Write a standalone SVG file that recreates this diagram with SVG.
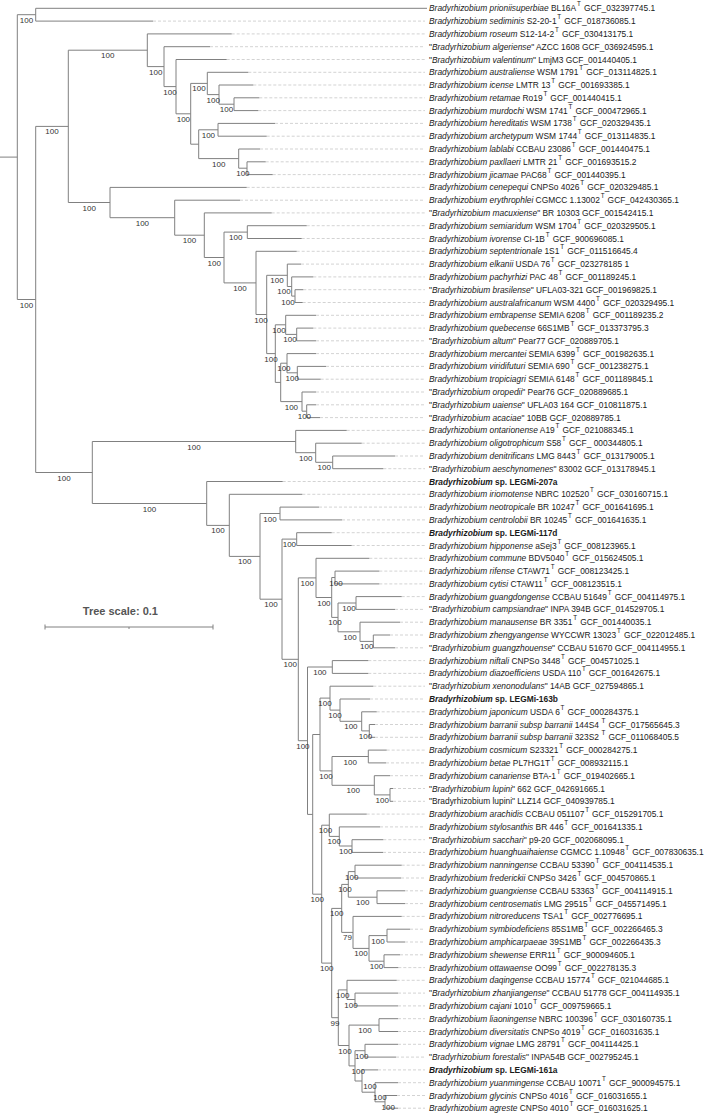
<svg xmlns="http://www.w3.org/2000/svg" width="706" height="1113" viewBox="0 0 706 1113">
<style>
.lf{font-family:"Liberation Sans",Arial,sans-serif;font-size:8.4px;fill:#1a1a1a}
.i{font-style:italic}
.b{font-weight:bold}
.t{font-size:6.3px}
.bs{font-family:"Liberation Sans",Arial,sans-serif;font-size:8px;fill:#333;text-anchor:middle}
.br{stroke:#808080;stroke-width:1;fill:none}
.dl{stroke:#c8c8c8;stroke-width:0.8;stroke-dasharray:3 2;fill:none}
.sc{font-family:"Liberation Sans",Arial,sans-serif;font-size:11px;font-weight:bold;fill:#555;text-anchor:end}
</style>
<rect width="706" height="1113" fill="#fff"/>
<g id="connectors">
<path class="dl" d="M153,21.1H425M231.7,33.9H425M210,46.7H425M226.7,59.5H425M248.3,72.3H425M253.3,85H425M259.3,97.8H425M258.3,110.6H425M275,123.4H425M266.7,136.2H425M260,149H425M265.7,161.8H425M272.7,174.6H425M246.7,187.4H425M240,200.2H425M271.7,212.9H425M306.7,225.7H425M301.7,238.5H425M296.7,251.3H425M301,264.1H425M313.3,276.9H425M303.3,289.7H425M302.7,302.5H425M316,315.3H425M313.3,328.1H425M316,340.8H425M316,353.6H425M326,366.4H425M320.7,379.2H425M316,392H425M316,404.8H425M320,417.6H425M346.7,430.4H425M361.7,443.2H425M395,456H425M383.3,468.7H425M282.7,481.5H425M302.3,494.3H425M319,507.1H425M342,519.9H425M331.7,532.7H425M351.7,545.5H425M369.3,558.3H425M379.3,571.1H425M379.3,583.9H425M401.7,596.6H425M395,609.4H425M400,622.2H425M390,635H425M395,647.8H425M368.3,660.6H425M368.3,673.4H425M373.3,686.2H425M370,699H425M376.7,711.8H425M375,724.5H425M375,737.3H425M386.7,750.1H425M386,762.9H425M390,775.7H425M393,788.5H425M393,801.3H425M366.7,814.1H425M380,826.9H425M383.3,839.7H425M383,852.4H425M401.7,865.2H425M401,878H425M405,890.8H425M405,903.6H425M401.7,916.4H425M410,929.2H425M405,942H425M400,954.8H425M398.3,967.6H425M396.7,980.3H425M398,993.1H425M398,1005.9H425M398,1018.7H425M398,1031.5H425M398,1044.3H425M396,1057.1H425M378,1069.9H425M398,1082.7H425M397,1095.5H425M398,1108.2H425"/>
<path class="br" d="M0,157.1H17.3M35.7,14.7H17.3V299.5H35.7
M427,8.3H35.7V21.1H153
M68.3,126.4H35.7V472.5H92.3
M147.3,50.2H68.3V202.5H110
M231.7,33.9H147.3V66.6H164
M210,46.7H164V86.6H176
M226.7,59.5H176V113.8H190.7
M207.3,83.4H190.7V144.2H198.7
M248.3,72.3H207.3V94.6H219
M253.3,85H219V104.2H234
M259.3,97.8H234V110.6H258.3
M218,129.8H198.7V158.6H238.7
M275,123.4H218V136.2H266.7
M260,149H238.7V168.2H247
M265.7,161.8H247V174.6H272.7
M246.7,187.4H110V217.7H174.7
M240,200.2H174.7V235.2H204.3
M271.7,212.9H204.3V257.5H224
M247.3,232.1H224V282.9H256
M306.7,225.7H247.3V238.5H301.7
M296.7,251.3H256V314.5H266.7
M287.3,275.3H266.7V353.6H275.3
M301,264.1H287.3V286.5H291.7
M313.3,276.9H291.7V296.1H295
M303.3,289.7H295V302.5H302.7
M285.7,324.8H275.3V382.4H280.7
M316,315.3H285.7V334.4H296.7
M313.3,328.1H296.7V340.8H316
M287,363.2H280.7V401.6H302
M316,353.6H287V372.8H297.3
M326,366.4H297.3V379.2H320.7
M316,392H302V411.2H306.7
M316,404.8H306.7V417.6H320
M295.7,441.5H92.3V503.5H206.7
M346.7,430.4H295.7V452.7H315.7
M361.7,443.2H315.7V462.3H332.7
M395,456H332.7V468.7H383.3
M282.7,481.5H206.7V525.4H229.3
M302.3,494.3H229.3V556.4H260
M280,513.5H260V599.2H282
M319,507.1H280V519.9H342
M296.7,539.1H282V659.3H298.3
M331.7,532.7H296.7V545.5H351.7
M316,577.9H298.3V740.7H307.5
M369.3,558.3H316V597.5H331.7
M335,577.5H331.7V617.4H338
M379.3,571.1H335V583.9H379.3
M356,603H338V631.8H360
M401.7,596.6H356V609.4H395
M400,622.2H360V641.4H373.3
M390,635H373.3V647.8H395
M332.3,667H307.5V814.4H312.7
M368.3,660.6H332.3V673.4H368.3
M320,734.5H312.7V894.2H321.7
M330,698.1H320V770.9H332
M373.3,686.2H330V710.1H340
M370,699H340V721.3H361.7
M376.7,711.8H361.7V730.9H369.3
M375,724.5H369.3V737.3H375
M368.3,756.5H332V785.3H374.3
M386.7,750.1H368.3V762.9H386
M390,775.7H374.3V794.9H390
M393,788.5H390V801.3H393
M329.3,825.2H321.7V963.1H331.7
M366.7,814.1H329.3V836.4H339.3
M380,826.9H339.3V846H352
M383.3,839.7H352V852.4H383
M341.7,908.4H331.7V1017.7H338.3
M348.3,884.4H341.7V932.4H353
M355,871.6H348.3V897.2H377
M401.7,865.2H355V878H401
M405,890.8H377V903.6H405
M401.7,916.4H353V948.4H369
M387,935.6H369V961.2H384
M410,929.2H387V942H405
M400,954.8H384V967.6H398.3
M347,989.9H338.3V1045.5H349
M396.7,980.3H347V999.5H355
M398,993.1H355V1005.9H398
M379,1025.1H349V1065.9H355
M398,1018.7H379V1031.5H398
M365,1050.7H355V1081H362
M398,1044.3H365V1057.1H396
M378,1069.9H362V1092.2H375
M398,1082.7H375V1101.8H385
M397,1095.5H385V1108.2H398"/>
</g>
<g id="bootstrap">
<g id="n-N1"><text class="bs" x="26.5" y="22.7">100</text></g>
<g id="n-A"><text class="bs" x="26.5" y="307.5">100</text></g>
<g id="n-B"><text class="bs" x="52" y="134.4">100</text></g>
<g id="n-C"><text class="bs" x="107.8" y="58.2">100</text></g>
<g id="n-D"><text class="bs" x="155.7" y="74.6">100</text></g>
<g id="n-E"><text class="bs" x="170" y="94.6">100</text></g>
<g id="n-F"><text class="bs" x="183.4" y="121.8">100</text></g>
<g id="n-G"><text class="bs" x="199" y="91.4">100</text></g>
<g id="n-G2"><text class="bs" x="213.2" y="102.6">100</text></g>
<g id="n-G3"><text class="bs" x="226.5" y="112.2">100</text></g>
<g id="n-H1"><text class="bs" x="208.4" y="137.8">100</text></g>
<g id="n-H2"><text class="bs" x="218.7" y="166.6">100</text></g>
<g id="n-H3"><text class="bs" x="242.9" y="176.2">100</text></g>
<g id="n-I"><text class="bs" x="89.2" y="210.5">100</text></g>
<g id="n-J"><text class="bs" x="142.4" y="225.7">100</text></g>
<g id="n-K"><text class="bs" x="189.5" y="243.2">100</text></g>
<g id="n-L"><text class="bs" x="214.2" y="265.5">100</text></g>
<g id="n-M"><text class="bs" x="235.7" y="240.1">100</text></g>
<g id="n-N"><text class="bs" x="240" y="290.9">100</text></g>
<g id="n-O"><text class="bs" x="261" y="322.5">100</text></g>
<g id="n-P"><text class="bs" x="277" y="283.3">100</text></g>
<g id="n-P2"><text class="bs" x="284" y="294">100</text></g>
<g id="n-P3"><text class="bs" x="288" y="304.5">100</text></g>
<g id="n-Q"><text class="bs" x="271" y="361.6">100</text></g>
<g id="n-R"><text class="bs" x="279" y="332.8">100</text></g>
<g id="n-R2"><text class="bs" x="290" y="342.4">100</text></g>
<g id="n-T"><text class="bs" x="283.9" y="371.2">100</text></g>
<g id="n-T2"><text class="bs" x="292.2" y="380.8">100</text></g>
<g id="n-U"><text class="bs" x="291.4" y="409.6">100</text></g>
<g id="n-U2"><text class="bs" x="304.4" y="419.2">100</text></g>
<g id="n-W"><text class="bs" x="64" y="480.5">100</text></g>
<g id="n-V1"><text class="bs" x="194" y="449.5">100</text></g>
<g id="n-V2"><text class="bs" x="305.7" y="460.7">100</text></g>
<g id="n-V3"><text class="bs" x="324.2" y="470.3">100</text></g>
<g id="n-X"><text class="bs" x="149.5" y="511.5">100</text></g>
<g id="n-Y"><text class="bs" x="218" y="533.4">100</text></g>
<g id="n-Z"><text class="bs" x="244.7" y="564.4">100</text></g>
<g id="n-Z1"><text class="bs" x="270" y="521.5">100</text></g>
<g id="n-Z2"><text class="bs" x="271" y="607.2">100</text></g>
<g id="n-Z3"><text class="bs" x="289.4" y="547.1">100</text></g>
<g id="n-Z4"><text class="bs" x="290.2" y="667.3">100</text></g>
<g id="n-AA"><text class="bs" x="307.2" y="585.9">100</text></g>
<g id="n-AC"><text class="bs" x="323.9" y="605.5">100</text></g>
<g id="n-AD"><text class="bs" x="336" y="585.5">100</text></g>
<g id="n-AI"><text class="bs" x="335" y="625.4">100</text></g>
<g id="n-AF"><text class="bs" x="349" y="611">100</text></g>
<g id="n-AH"><text class="bs" x="350" y="639.8">100</text></g>
<g id="n-AG"><text class="bs" x="366.7" y="649.4">100</text></g>
<g id="n-AB"><text class="bs" x="302.9" y="748.7">100</text></g>
<g id="n-AJ"><text class="bs" x="319.9" y="675">100</text></g>
<g id="n-AO"><text class="bs" x="325" y="706.1">100</text></g>
<g id="n-AN"><text class="bs" x="335" y="718.1">100</text></g>
<g id="n-AM"><text class="bs" x="350.9" y="729.3">100</text></g>
<g id="n-AL"><text class="bs" x="365.5" y="738.9">100</text></g>
<g id="n-AQ"><text class="bs" x="326" y="778.9">100</text></g>
<g id="n-AP"><text class="bs" x="350.2" y="764.5">100</text></g>
<g id="n-AR"><text class="bs" x="353.2" y="793.3">100</text></g>
<g id="n-AR1"><text class="bs" x="382.2" y="802.9">100</text></g>
<g id="n-Nw"><text class="bs" x="317.2" y="902.2">100</text></g>
<g id="n-Nc"><text class="bs" x="325.5" y="833.2">100</text></g>
<g id="n-Nb"><text class="bs" x="334.3" y="844.4">100</text></g>
<g id="n-Na"><text class="bs" x="345.7" y="854">100</text></g>
<g id="n-Nv"><text class="bs" x="326.7" y="971.1">100</text></g>
<g id="n-Nk"><text class="bs" x="336.7" y="916.4">100</text></g>
<g id="n-Nf"><text class="bs" x="345" y="892.4">100</text></g>
<g id="n-Nd"><text class="bs" x="351.7" y="879.6">100</text></g>
<g id="n-Ne"><text class="bs" x="362.7" y="905.2">100</text></g>
<g id="n-Nj"><text class="bs" x="347.4" y="940.4">79</text></g>
<g id="n-Ni"><text class="bs" x="361" y="956.4">100</text></g>
<g id="n-Ng"><text class="bs" x="378" y="943.6">100</text></g>
<g id="n-Nh"><text class="bs" x="376.5" y="969.2">100</text></g>
<g id="n-Nu"><text class="bs" x="335" y="1025.7">99</text></g>
<g id="n-Nm"><text class="bs" x="342.7" y="997.9">100</text></g>
<g id="n-Nl"><text class="bs" x="351" y="1007.5">100</text></g>
<g id="n-Nt"><text class="bs" x="345" y="1053.5">100</text></g>
<g id="n-Nn"><text class="bs" x="365" y="1033.1">100</text></g>
<g id="n-Ns"><text class="bs" x="358.3" y="1073.9">100</text></g>
<g id="n-No"><text class="bs" x="361.7" y="1058.7">100</text></g>
<g id="n-Nr"><text class="bs" x="370" y="1089">100</text></g>
<g id="n-Nq"><text class="bs" x="380" y="1100.2">100</text></g>
<g id="n-Np"><text class="bs" x="388.3" y="1109.8">100</text></g>
</g>
<g id="scale">
<text class="sc" x="158" y="615">Tree scale: 0.1</text>
<path class="br" d="M45,627H213M45,624.5V629.5M213,624.5V629.5M129,627V629"/>
</g>
<g id="leaves" class="lf">
<g id="leaf0"><text x="429" y="11.3"><tspan class="i">Bradyrhizobium prioniisuperbiae</tspan> BL16A<tspan class="t" dx="0.8" dy="-5">T</tspan><tspan dx="0.8" dy="5"> GCF_032397745.1</tspan></text></g>
<g id="leaf1"><text x="429" y="24.1"><tspan class="i">Bradyrhizobium sediminis</tspan> S2-20-1<tspan class="t" dx="0.8" dy="-5">T</tspan><tspan dx="0.8" dy="5"> GCF_018736085.1</tspan></text></g>
<g id="leaf2"><text x="429" y="36.9"><tspan class="i">Bradyrhizobium roseum</tspan> S12-14-2<tspan class="t" dx="0.8" dy="-5">T</tspan><tspan dx="0.8" dy="5"> GCF_030413175.1</tspan></text></g>
<g id="leaf3"><text x="429" y="49.7">"<tspan class="i">Bradyrhizobium algeriense</tspan>" AZCC 1608 GCF_036924595.1</text></g>
<g id="leaf4"><text x="429" y="62.5">"<tspan class="i">Bradyrhizobium valentinum</tspan>" LmjM3 GCF_001440405.1</text></g>
<g id="leaf5"><text x="429" y="75.3"><tspan class="i">Bradyrhizobium australiense</tspan> WSM 1791<tspan class="t" dx="0.8" dy="-5">T</tspan><tspan dx="0.8" dy="5"> GCF_013114825.1</tspan></text></g>
<g id="leaf6"><text x="429" y="88"><tspan class="i">Bradyrhizobium icense</tspan> LMTR 13<tspan class="t" dx="0.8" dy="-5">T</tspan><tspan dx="0.8" dy="5"> GCF_001693385.1</tspan></text></g>
<g id="leaf7"><text x="429" y="100.8"><tspan class="i">Bradyrhizobium retamae</tspan> Ro19<tspan class="t" dx="0.8" dy="-5">T</tspan><tspan dx="0.8" dy="5"> GCF_001440415.1</tspan></text></g>
<g id="leaf8"><text x="429" y="113.6"><tspan class="i">Bradyrhizobium murdochi</tspan> WSM 1741<tspan class="t" dx="0.8" dy="-5">T</tspan><tspan dx="0.8" dy="5"> GCF_000472965.1</tspan></text></g>
<g id="leaf9"><text x="429" y="126.4"><tspan class="i">Bradyrhizobium hereditatis</tspan> WSM 1738<tspan class="t" dx="0.8" dy="-5">T</tspan><tspan dx="0.8" dy="5"> GCF_020329435.1</tspan></text></g>
<g id="leaf10"><text x="429" y="139.2"><tspan class="i">Bradyrhizobium archetypum</tspan> WSM 1744<tspan class="t" dx="0.8" dy="-5">T</tspan><tspan dx="0.8" dy="5"> GCF_013114835.1</tspan></text></g>
<g id="leaf11"><text x="429" y="152"><tspan class="i">Bradyrhizobium lablabi</tspan> CCBAU 23086<tspan class="t" dx="0.8" dy="-5">T</tspan><tspan dx="0.8" dy="5"> GCF_001440475.1</tspan></text></g>
<g id="leaf12"><text x="429" y="164.8"><tspan class="i">Bradyrhizobium paxllaeri</tspan> LMTR 21<tspan class="t" dx="0.8" dy="-5">T</tspan><tspan dx="0.8" dy="5"> GCF_001693515.2</tspan></text></g>
<g id="leaf13"><text x="429" y="177.6"><tspan class="i">Bradyrhizobium jicamae</tspan> PAC68<tspan class="t" dx="0.8" dy="-5">T</tspan><tspan dx="0.8" dy="5"> GCF_001440395.1</tspan></text></g>
<g id="leaf14"><text x="429" y="190.4"><tspan class="i">Bradyrhizobium cenepequi</tspan> CNPSo 4026<tspan class="t" dx="0.8" dy="-5">T</tspan><tspan dx="0.8" dy="5"> GCF_020329485.1</tspan></text></g>
<g id="leaf15"><text x="429" y="203.2"><tspan class="i">Bradyrhizobium erythrophlei</tspan> CGMCC 1.13002<tspan class="t" dx="0.8" dy="-5">T</tspan><tspan dx="0.8" dy="5"> GCF_042430365.1</tspan></text></g>
<g id="leaf16"><text x="429" y="215.9">"<tspan class="i">Bradyrhizobium macuxiense</tspan>" BR 10303 GCF_001542415.1</text></g>
<g id="leaf17"><text x="429" y="228.7"><tspan class="i">Bradyrhizobium semiaridum</tspan> WSM 1704<tspan class="t" dx="0.8" dy="-5">T</tspan><tspan dx="0.8" dy="5"> GCF_020329505.1</tspan></text></g>
<g id="leaf18"><text x="429" y="241.5"><tspan class="i">Bradyrhizobium ivorense</tspan> CI-1B<tspan class="t" dx="0.8" dy="-5">T</tspan><tspan dx="0.8" dy="5"> GCF_900696085.1</tspan></text></g>
<g id="leaf19"><text x="429" y="254.3"><tspan class="i">Bradyrhizobium septentrionale</tspan> 1S1<tspan class="t" dx="0.8" dy="-5">T</tspan><tspan dx="0.8" dy="5"> GCF_011516645.4</tspan></text></g>
<g id="leaf20"><text x="429" y="267.1"><tspan class="i">Bradyrhizobium elkanii</tspan> USDA 76<tspan class="t" dx="0.8" dy="-5">T</tspan><tspan dx="0.8" dy="5"> GCF_023278185 1</tspan></text></g>
<g id="leaf21"><text x="429" y="279.9"><tspan class="i">Bradyrhizobium pachyrhizi</tspan> PAC 48<tspan class="t" dx="0.8" dy="-5">T</tspan><tspan dx="0.8" dy="5"> GCF_001189245.1</tspan></text></g>
<g id="leaf22"><text x="429" y="292.7">"<tspan class="i">Bradyrhizobium brasilense</tspan>" UFLA03-321 GCF_001969825.1</text></g>
<g id="leaf23"><text x="429" y="305.5"><tspan class="i">Bradyrhizobium australafricanum</tspan> WSM 4400<tspan class="t" dx="0.8" dy="-5">T</tspan><tspan dx="0.8" dy="5"> GCF_020329495.1</tspan></text></g>
<g id="leaf24"><text x="429" y="318.3"><tspan class="i">Bradyrhizobium embrapense</tspan> SEMIA 6208<tspan class="t" dx="0.8" dy="-5">T</tspan><tspan dx="0.8" dy="5"> GCF_001189235.2</tspan></text></g>
<g id="leaf25"><text x="429" y="331.1"><tspan class="i">Bradyrhizobium quebecense</tspan> 66S1MB<tspan class="t" dx="0.8" dy="-5">T</tspan><tspan dx="0.8" dy="5"> GCF_013373795.3</tspan></text></g>
<g id="leaf26"><text x="429" y="343.8">"<tspan class="i">Bradyrhizobium altum</tspan>" Pear77 GCF_020889705.1</text></g>
<g id="leaf27"><text x="429" y="356.6"><tspan class="i">Bradyrhizobium mercantei</tspan> SEMIA 6399<tspan class="t" dx="0.8" dy="-5">T</tspan><tspan dx="0.8" dy="5"> GCF_001982635.1</tspan></text></g>
<g id="leaf28"><text x="429" y="369.4"><tspan class="i">Bradyrhizobium viridifuturi</tspan> SEMIA 690<tspan class="t" dx="0.8" dy="-5">T</tspan><tspan dx="0.8" dy="5"> GCF_001238275.1</tspan></text></g>
<g id="leaf29"><text x="429" y="382.2"><tspan class="i">Bradyrhizobium tropiciagri</tspan> SEMIA 6148<tspan class="t" dx="0.8" dy="-5">T</tspan><tspan dx="0.8" dy="5"> GCF_001189845.1</tspan></text></g>
<g id="leaf30"><text x="429" y="395">"<tspan class="i">Bradyrhizobium oropedii</tspan>" Pear76 GCF_020889685.1</text></g>
<g id="leaf31"><text x="429" y="407.8">"<tspan class="i">Bradyrhizobium uaiense</tspan>" UFLA03 164 GCF_010811875.1</text></g>
<g id="leaf32"><text x="429" y="420.6">"<tspan class="i">Bradyrhizobium acaciae</tspan>" 10BB GCF_020889785.1</text></g>
<g id="leaf33"><text x="429" y="433.4"><tspan class="i">Bradyrhizobium ontarionense</tspan> A19<tspan class="t" dx="0.8" dy="-5">T</tspan><tspan dx="0.8" dy="5"> GCF_021088345.1</tspan></text></g>
<g id="leaf34"><text x="429" y="446.2"><tspan class="i">Bradyrhizobium oligotrophicum</tspan> S58<tspan class="t" dx="0.8" dy="-5">T</tspan><tspan dx="0.8" dy="5"> GCF_ 000344805.1</tspan></text></g>
<g id="leaf35"><text x="429" y="459"><tspan class="i">Bradyrhizobium denitrificans</tspan> LMG 8443<tspan class="t" dx="0.8" dy="-5">T</tspan><tspan dx="0.8" dy="5"> GCF_013179005.1</tspan></text></g>
<g id="leaf36"><text x="429" y="471.7">"<tspan class="i">Bradyrhizobium aeschynomenes</tspan>" 83002 GCF_013178945.1</text></g>
<g id="leaf37"><text x="429" y="484.5" class="b"><tspan class="i">Bradyrhizobium</tspan> sp. LEGMi-207a</text></g>
<g id="leaf38"><text x="429" y="497.3"><tspan class="i">Bradyrhizobium iriomotense</tspan> NBRC 102520<tspan class="t" dx="0.8" dy="-5">T</tspan><tspan dx="0.8" dy="5"> GCF_030160715.1</tspan></text></g>
<g id="leaf39"><text x="429" y="510.1"><tspan class="i">Bradyrhizobium neotropicale</tspan> BR 10247<tspan class="t" dx="0.8" dy="-5">T</tspan><tspan dx="0.8" dy="5"> GCF_001641695.1</tspan></text></g>
<g id="leaf40"><text x="429" y="522.9"><tspan class="i">Bradyrhizobium centrolobii</tspan> BR 10245<tspan class="t" dx="0.8" dy="-5">T</tspan><tspan dx="0.8" dy="5"> GCF_001641635.1</tspan></text></g>
<g id="leaf41"><text x="429" y="535.7" class="b"><tspan class="i">Bradyrhizobium</tspan> sp. LEGMi-117d</text></g>
<g id="leaf42"><text x="429" y="548.5"><tspan class="i">Bradyrhizobium hipponense</tspan> aSej3<tspan class="t" dx="0.8" dy="-5">T</tspan><tspan dx="0.8" dy="5"> GCF_008123965.1</tspan></text></g>
<g id="leaf43"><text x="429" y="561.3"><tspan class="i">Bradyrhizobium commune</tspan> BDV5040<tspan class="t" dx="0.8" dy="-5">T</tspan><tspan dx="0.8" dy="5"> GCF_015624505.1</tspan></text></g>
<g id="leaf44"><text x="429" y="574.1"><tspan class="i">Bradyrhizobium rifense</tspan> CTAW71<tspan class="t" dx="0.8" dy="-5">T</tspan><tspan dx="0.8" dy="5"> GCF_008123425.1</tspan></text></g>
<g id="leaf45"><text x="429" y="586.9"><tspan class="i">Bradyrhizobium cytisi</tspan> CTAW11<tspan class="t" dx="0.8" dy="-5">T</tspan><tspan dx="0.8" dy="5"> GCF_008123515.1</tspan></text></g>
<g id="leaf46"><text x="429" y="599.6"><tspan class="i">Bradyrhizobium guangdongense</tspan> CCBAU 51649<tspan class="t" dx="0.8" dy="-5">T</tspan><tspan dx="0.8" dy="5"> GCF_004114975.1</tspan></text></g>
<g id="leaf47"><text x="429" y="612.4">"<tspan class="i">Bradyrhizobium campsiandrae</tspan>" INPA 394B GCF_014529705.1</text></g>
<g id="leaf48"><text x="429" y="625.2"><tspan class="i">Bradyrhizobium manausense</tspan> BR 3351<tspan class="t" dx="0.8" dy="-5">T</tspan><tspan dx="0.8" dy="5"> GCF_001440035.1</tspan></text></g>
<g id="leaf49"><text x="429" y="638"><tspan class="i">Bradyrhizobium zhengyangense</tspan> WYCCWR 13023<tspan class="t" dx="0.8" dy="-5">T</tspan><tspan dx="0.8" dy="5"> GCF_022012485.1</tspan></text></g>
<g id="leaf50"><text x="429" y="650.8">"<tspan class="i">Bradyrhizobium guangzhouense</tspan>" CCBAU 51670 GCF_004114955.1</text></g>
<g id="leaf51"><text x="429" y="663.6"><tspan class="i">Bradyrhizobium niftali</tspan> CNPSo 3448<tspan class="t" dx="0.8" dy="-5">T</tspan><tspan dx="0.8" dy="5"> GCF_004571025.1</tspan></text></g>
<g id="leaf52"><text x="429" y="676.4"><tspan class="i">Bradyrhizobium diazoefficiens</tspan> USDA 110<tspan class="t" dx="0.8" dy="-5">T</tspan><tspan dx="0.8" dy="5"> GCF_001642675.1</tspan></text></g>
<g id="leaf53"><text x="429" y="689.2">"<tspan class="i">Bradyrhizobium xenonodulans</tspan>" 14AB GCF_027594865.1</text></g>
<g id="leaf54"><text x="429" y="702" class="b"><tspan class="i">Bradyrhizobium</tspan> sp. LEGMi-163b</text></g>
<g id="leaf55"><text x="429" y="714.8"><tspan class="i">Bradyrhizobium japonicum</tspan> USDA 6<tspan class="t" dx="0.8" dy="-5">T</tspan><tspan dx="0.8" dy="5"> GCF_000284375.1</tspan></text></g>
<g id="leaf56"><text x="429" y="727.5"><tspan class="i">Bradyrhizobium barranii subsp barranii</tspan> 144S4<tspan class="t" dx="2.5" dy="-5">T</tspan><tspan dx="0.8" dy="5"> GCF_017565645.3</tspan></text></g>
<g id="leaf57"><text x="429" y="740.3"><tspan class="i">Bradyrhizobium barranii subsp barranii</tspan> 323S2<tspan class="t" dx="2.5" dy="-5">T</tspan><tspan dx="0.8" dy="5"> GCF_011068405.5</tspan></text></g>
<g id="leaf58"><text x="429" y="753.1"><tspan class="i">Bradyrhizobium cosmicum</tspan> S23321<tspan class="t" dx="0.8" dy="-5">T</tspan><tspan dx="0.8" dy="5"> GCF_000284275.1</tspan></text></g>
<g id="leaf59"><text x="429" y="765.9"><tspan class="i">Bradyrhizobium betae</tspan> PL7HG1T<tspan class="t" dx="0.8" dy="-5">T</tspan><tspan dx="0.8" dy="5"> GCF_008932115.1</tspan></text></g>
<g id="leaf60"><text x="429" y="778.7"><tspan class="i">Bradyrhizobium canariense</tspan> BTA-1<tspan class="t" dx="0.8" dy="-5">T</tspan><tspan dx="0.8" dy="5"> GCF_019402665.1</tspan></text></g>
<g id="leaf61"><text x="429" y="791.5">"<tspan class="i">Bradyrhizobium lupini</tspan>" 662 GCF_042691665.1</text></g>
<g id="leaf62"><text x="429" y="804.3">"Bradyrhizobium lupini" LLZ14 GCF_040939785.1</text></g>
<g id="leaf63"><text x="429" y="817.1"><tspan class="i">Bradyrhizobium arachidis</tspan> CCBAU 051107<tspan class="t" dx="0.8" dy="-5">T</tspan><tspan dx="0.8" dy="5"> GCF_015291705.1</tspan></text></g>
<g id="leaf64"><text x="429" y="829.9"><tspan class="i">Bradyrhizobium stylosanthis</tspan> BR 446<tspan class="t" dx="0.8" dy="-5">T</tspan><tspan dx="0.8" dy="5"> GCF_001641335.1</tspan></text></g>
<g id="leaf65"><text x="429" y="842.7">"<tspan class="i">Bradyrhizobium sacchari</tspan>" p9-20 GCF_002068095.1</text></g>
<g id="leaf66"><text x="429" y="855.4"><tspan class="i">Bradyrhizobium huanghuaihaiense</tspan> CGMCC 1.10948<tspan class="t" dx="0.8" dy="-5">T</tspan><tspan dx="0.8" dy="5"> GCF_007830635.1</tspan></text></g>
<g id="leaf67"><text x="429" y="868.2"><tspan class="i">Bradyrhizobium nanningense</tspan> CCBAU 53390<tspan class="t" dx="0.8" dy="-5">T</tspan><tspan dx="0.8" dy="5"> GCF_004114535.1</tspan></text></g>
<g id="leaf68"><text x="429" y="881"><tspan class="i">Bradyrhizobium frederickii</tspan> CNPSo 3426<tspan class="t" dx="0.8" dy="-5">T</tspan><tspan dx="0.8" dy="5"> GCF_004570865.1</tspan></text></g>
<g id="leaf69"><text x="429" y="893.8"><tspan class="i">Bradyrhizobium guangxiense</tspan> CCBAU 53363<tspan class="t" dx="0.8" dy="-5">T</tspan><tspan dx="0.8" dy="5"> GCF_004114915.1</tspan></text></g>
<g id="leaf70"><text x="429" y="906.6"><tspan class="i">Bradyrhizobium centrosematis</tspan> LMG 29515<tspan class="t" dx="0.8" dy="-5">T</tspan><tspan dx="0.8" dy="5"> GCF_045571495.1</tspan></text></g>
<g id="leaf71"><text x="429" y="919.4"><tspan class="i">Bradyrhizobium nitroreducens</tspan> TSA1<tspan class="t" dx="0.8" dy="-5">T</tspan><tspan dx="0.8" dy="5"> GCF_002776695.1</tspan></text></g>
<g id="leaf72"><text x="429" y="932.2"><tspan class="i">Bradyrhizobium symbiodeficiens</tspan> 85S1MB<tspan class="t" dx="0.8" dy="-5">T</tspan><tspan dx="0.8" dy="5"> GCF_002266465.3</tspan></text></g>
<g id="leaf73"><text x="429" y="945"><tspan class="i">Bradyrhizobium amphicarpaeae</tspan> 39S1MB<tspan class="t" dx="0.8" dy="-5">T</tspan><tspan dx="0.8" dy="5"> GCF_002266435.3</tspan></text></g>
<g id="leaf74"><text x="429" y="957.8"><tspan class="i">Bradyrhizobium shewense</tspan> ERR11<tspan class="t" dx="0.8" dy="-5">T</tspan><tspan dx="0.8" dy="5"> GCF_900094605.1</tspan></text></g>
<g id="leaf75"><text x="429" y="970.6"><tspan class="i">Bradyrhizobium ottawaense</tspan> OO99<tspan class="t" dx="0.8" dy="-5">T</tspan><tspan dx="0.8" dy="5"> GCF_002278135.3</tspan></text></g>
<g id="leaf76"><text x="429" y="983.3"><tspan class="i">Bradyrhizobium daqingense</tspan> CCBAU 15774<tspan class="t" dx="0.8" dy="-5">T</tspan><tspan dx="0.8" dy="5"> GCF_021044685.1</tspan></text></g>
<g id="leaf77"><text x="429" y="996.1">"<tspan class="i">Bradyrhizobium zhanjiangense</tspan>" CCBAU 51778 GCF_004114935.1</text></g>
<g id="leaf78"><text x="429" y="1008.9"><tspan class="i">Bradyrhizobium cajani</tspan> 1010<tspan class="t" dx="0.8" dy="-5">T</tspan><tspan dx="0.8" dy="5"> GCF_009759665.1</tspan></text></g>
<g id="leaf79"><text x="429" y="1021.7"><tspan class="i">Bradyrhizobium liaoningense</tspan> NBRC 100396<tspan class="t" dx="0.8" dy="-5">T</tspan><tspan dx="0.8" dy="5"> GCF_030160735.1</tspan></text></g>
<g id="leaf80"><text x="429" y="1034.5"><tspan class="i">Bradyrhizobium diversitatis</tspan> CNPSo 4019<tspan class="t" dx="0.8" dy="-5">T</tspan><tspan dx="0.8" dy="5"> GCF_016031635.1</tspan></text></g>
<g id="leaf81"><text x="429" y="1047.3"><tspan class="i">Bradyrhizobium vignae</tspan> LMG 28791<tspan class="t" dx="0.8" dy="-5">T</tspan><tspan dx="0.8" dy="5"> GCF_004114425.1</tspan></text></g>
<g id="leaf82"><text x="429" y="1060.1">"<tspan class="i">Bradyrhizobium forestalis</tspan>" INPA54B GCF_002795245.1</text></g>
<g id="leaf83"><text x="429" y="1072.9" class="b"><tspan class="i">Bradyrhizobium</tspan> sp. LEGMi-161a</text></g>
<g id="leaf84"><text x="429" y="1085.7"><tspan class="i">Bradyrhizobium yuanmingense</tspan> CCBAU 10071<tspan class="t" dx="0.8" dy="-5">T</tspan><tspan dx="0.8" dy="5"> GCF_900094575.1</tspan></text></g>
<g id="leaf85"><text x="429" y="1098.5"><tspan class="i">Bradyrhizobium glycinis</tspan> CNPSo 4016<tspan class="t" dx="0.8" dy="-5">T</tspan><tspan dx="0.8" dy="5"> GCF_016031655.1</tspan></text></g>
<g id="leaf86"><text x="429" y="1111.2"><tspan class="i">Bradyrhizobium agreste</tspan> CNPSo 4010<tspan class="t" dx="0.8" dy="-5">T</tspan><tspan dx="0.8" dy="5"> GCF_016031625.1</tspan></text></g>
</g>
</svg>
